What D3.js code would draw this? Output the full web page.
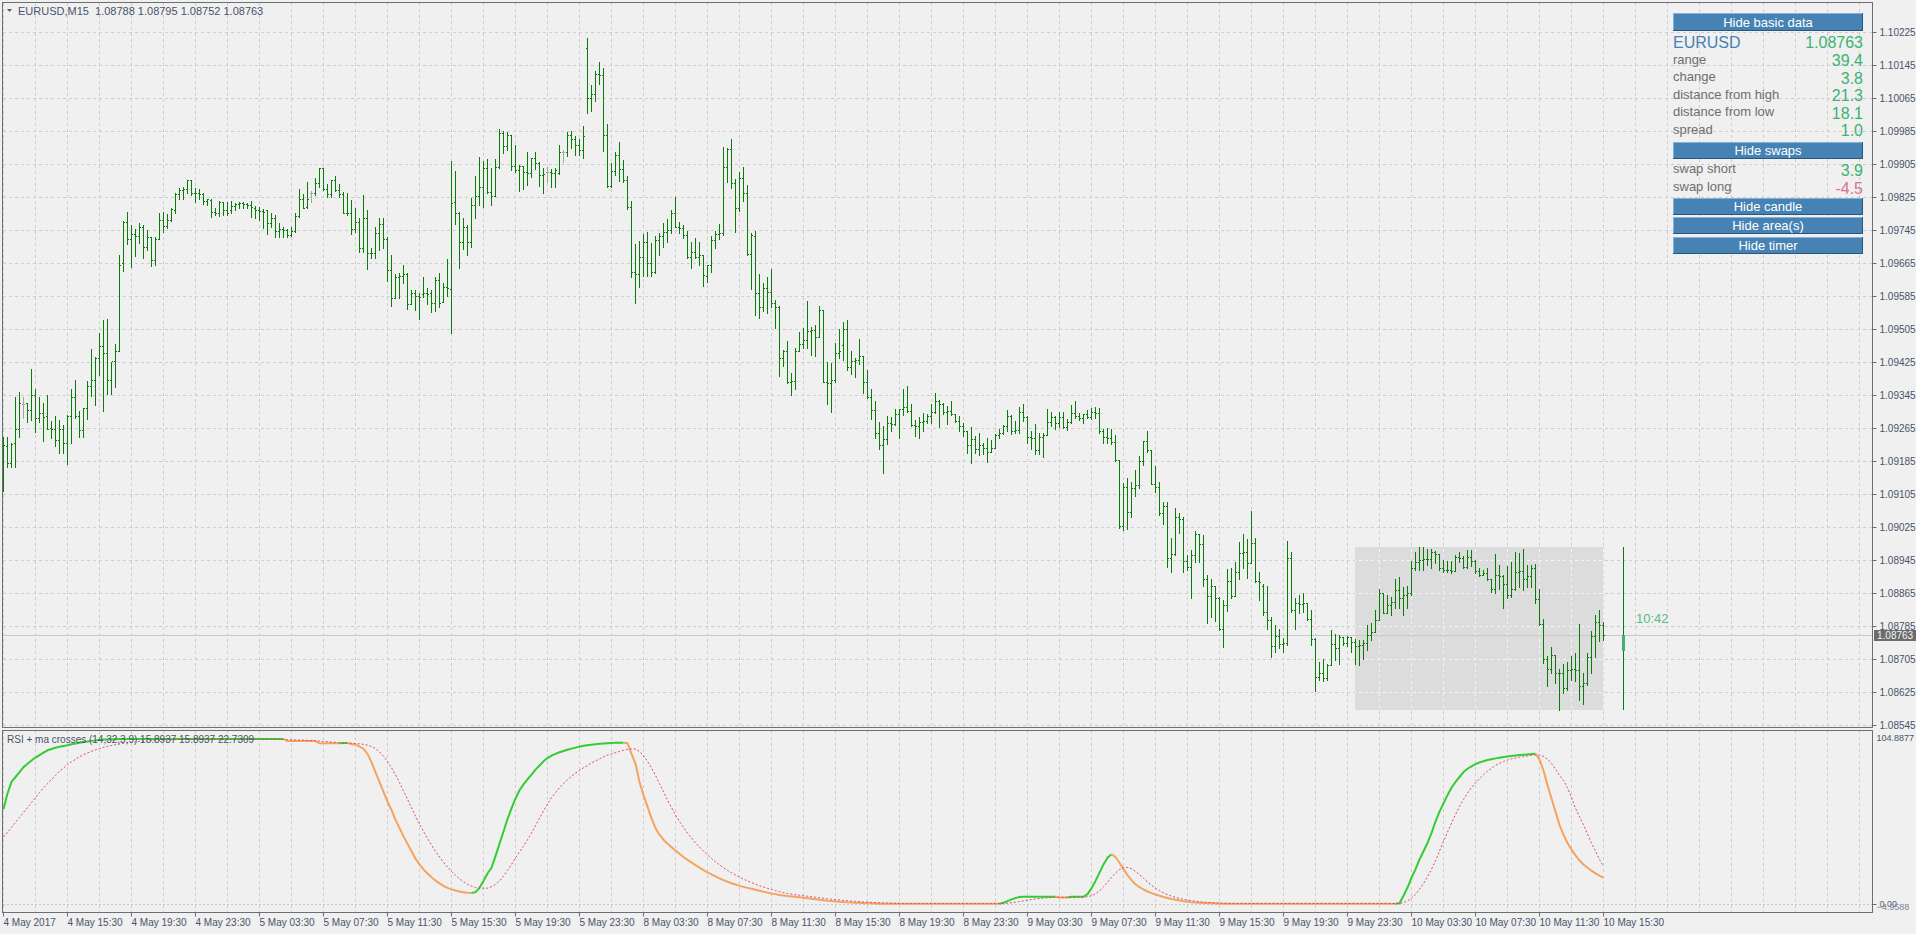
<!DOCTYPE html>
<html>
<head>
<meta charset="utf-8">
<script src="https://cdn.jsdelivr.net/npm/d3@7"></script>
<style>
  body { margin: 0; background: #f0f0f0; overflow: hidden; }
  svg { display: block; font-family: "Liberation Sans", Arial, sans-serif; }
</style>
</head>
<body>
<svg id="chart" width="1916" height="934"></svg>
<script>
// EURUSD M15 bars, prices in points (price * 100000), bar 0 = 4 May 11:30
const barOpen = [
  109179,109221,109181,109228,109264,109323,109325,109310,109345,109290,
  109301,109294,109266,109262,109236,109263,109230,109294,109341,109294,
  109260,109313,109367,109382,109436,109464,109448,109382,109428,109453,
  109666,109766,109723,109736,109731,109754,109705,109728,109673,109725,
  109771,109755,109771,109794,109834,109843,109844,109868,109836,109835,
  109834,109817,109818,109790,109788,109814,109794,109794,109804,109809,
  109810,109809,109807,109800,109794,109792,109794,109762,109776,109743,
  109747,109745,109733,109743,109779,109822,109802,109836,109836,109859,
  109895,109846,109833,109867,109843,109834,109787,109786,109747,109766,
  109701,109774,109690,109689,109739,109760,109725,109648,109580,109632,
  109634,109639,109567,109593,109585,109590,109592,109592,109568,109624,
  109572,109608,109602,109814,109786,109717,109754,109717,109806,109829,
  109849,109895,109839,109829,109898,109980,109950,109975,109901,109891,
  109901,109887,109885,109920,109907,109879,109887,109887,109885,109883,
  109934,109934,109976,109966,109952,109940,110186,110067,110075,110123,
  110122,109976,109852,109889,109928,109893,109867,109802,109645,109639,
  109679,109716,109665,109643,109721,109732,109740,109746,109788,109754,
  109751,109734,109679,109692,109679,109685,109635,109661,109721,109735,
  109738,109898,109941,109859,109800,109871,109836,109687,109730,109592,
  109560,109604,109596,109568,109558,109434,109451,109376,109379,109452,
  109468,109480,109501,109503,109487,109552,109378,109374,109383,109448,
  109467,109505,109413,109428,109430,109439,109378,109341,109308,109253,
  109224,109239,109277,109275,109299,109311,109317,109307,109273,109270,
  109281,109283,109295,109304,109331,109324,109304,109307,109299,109283,
  109270,109257,109224,109238,109214,109223,109218,109206,109216,109249,
  109253,109271,109295,109257,109261,109305,109291,109244,109242,109211,
  109244,109249,109281,109291,109277,109293,109269,109279,109301,109295,
  109289,109299,109293,109304,109303,109257,109243,109241,109231,109188,
  109028,109123,109061,109121,109126,109186,109234,109211,109130,109123,
  109059,109076,108949,108959,109050,109045,108943,108929,108957,109008,
  108983,108898,108858,108881,108854,108779,108836,108894,108859,108915,
  108961,108964,108937,108986,108894,108882,108820,108799,108736,108761,
  108741,108743,108951,108824,108840,108838,108840,108801,108753,108662,
  108672,108660,108690,108741,108731,108759,108745,108759,108747,108737,
  108739,108743,108763,108771,108799,108864,108817,108836,108844,108872,
  108854,108860,108864,108927,108941,108945,108947,108948,108965,108959,
  108927,108922,108921,108919,108953,108951,108929,108953,108943,108919,
  108909,108914,108898,108874,108909,108907,108888,108860,108874,108917,
  108918,108898,108906,108927,108850,108789,108706,108682,108714,108672,
  108670,108634,108678,108680,108678,108639,108646,108709,108761,108795,
  108788
];
const barHigh = [
  109244,109244,109228,109341,109352,109341,109327,109408,109361,109341,
  109327,109345,109282,109294,109285,109272,109297,109361,109382,109307,
  109315,109379,109456,109438,109497,109527,109530,109426,109469,109686,
  109767,109789,109759,109747,109763,109758,109745,109729,109728,109788,
  109790,109784,109798,109836,109847,109849,109868,109868,109847,109844,
  109836,109822,109820,109798,109817,109814,109814,109817,109812,109814,
  109814,109812,109816,109804,109802,109796,109794,109786,109782,109763,
  109752,109747,109753,109786,109844,109834,109863,109840,109873,109897,
  109897,109857,109868,109876,109857,109838,109836,109818,109800,109776,
  109830,109794,109701,109753,109774,109774,109729,109685,109640,109642,
  109661,109642,109601,109601,109592,109631,109604,109600,109631,109641,
  109616,109675,109913,109889,109789,109776,109759,109823,109877,109922,
  109913,109918,109895,109917,109990,109986,109984,109976,109952,109903,
  109902,109936,109921,109935,109910,109895,109899,109894,109895,109952,
  109940,109984,109986,109974,109966,109998,110211,110097,110131,110152,
  110139,110004,109907,109934,109958,109916,109877,109816,109712,109719,
  109736,109742,109713,109732,109738,109762,109772,109794,109825,109764,
  109758,109744,109717,109726,109717,109685,109661,109730,109743,109760,
  109946,109944,109966,109869,109887,109898,109855,109738,109743,109639,
  109616,109631,109651,109576,109561,109455,109477,109398,109460,109498,
  109507,109573,109511,109515,109561,109552,109425,109422,109471,109506,
  109523,109527,109452,109434,109481,109440,109406,109360,109331,109280,
  109270,109295,109291,109312,109312,109360,109367,109324,109285,109293,
  109301,109299,109323,109350,109333,109325,109319,109331,109299,109295,
  109278,109257,109267,109246,109253,109230,109242,109236,109250,109262,
  109273,109309,109297,109282,109316,109324,109295,109258,109275,109254,
  109254,109311,109305,109295,109305,109305,109288,109321,109331,109303,
  109299,109309,109313,109317,109313,109262,109265,109262,109249,109189,
  109133,109143,109135,109164,109198,109235,109258,109212,109173,109135,
  109087,109087,108998,109071,109059,109049,108957,108970,109016,109008,
  109006,108909,108898,108882,108856,108847,108923,108927,108940,108988,
  109008,108996,109064,108998,108917,108886,108882,108807,108787,108777,
  108755,108991,108965,108852,108860,108866,108841,108824,108755,108698,
  108704,108694,108775,108765,108763,108759,108761,108759,108753,108751,
  108752,108787,108793,108824,108876,108866,108860,108856,108898,108904,
  108879,108882,108943,108964,108976,108976,108973,108973,108968,108959,
  108945,108943,108942,108957,108965,108955,108969,108969,108945,108925,
  108922,108925,108898,108959,108933,108909,108930,108941,108965,108963,
  108973,108933,108934,108935,108876,108801,108712,108735,108714,108682,
  108692,108698,108713,108719,108790,108670,108719,108774,108812,108824,
  108795
];
const barLow = [
  109112,109171,109170,109170,109244,109289,109279,109286,109256,109279,
  109234,109263,109240,109221,109205,109204,109179,109228,109289,109244,
  109244,109288,109344,109321,109394,109307,109349,109349,109365,109453,
  109647,109712,109657,109682,109715,109677,109697,109658,109661,109725,
  109741,109750,109767,109788,109820,109822,109836,109830,109814,109820,
  109808,109806,109778,109782,109779,109782,109782,109788,109794,109800,
  109798,109800,109778,109774,109770,109751,109736,109754,109728,109728,
  109728,109728,109731,109741,109778,109798,109800,109814,109830,109851,
  109842,109826,109826,109840,109826,109786,109782,109737,109741,109693,
  109693,109652,109677,109677,109697,109703,109622,109561,109580,109580,
  109618,109555,109567,109551,109531,109582,109565,109548,109549,109560,
  109572,109586,109497,109760,109654,109699,109685,109705,109776,109806,
  109802,109835,109806,109829,109897,109932,109940,109891,109887,109841,
  109844,109855,109875,109894,109852,109836,109863,109851,109851,109882,
  109911,109925,109945,109928,109928,109921,110030,110034,110059,110100,
  109937,109851,109851,109879,109865,109861,109796,109631,109568,109608,
  109633,109633,109635,109641,109685,109705,109717,109738,109752,109738,
  109726,109677,109653,109677,109662,109611,109620,109645,109703,109723,
  109734,109863,109848,109742,109792,109816,109685,109603,109540,109533,
  109549,109544,109560,109507,109392,109417,109375,109345,109359,109452,
  109459,109460,109442,109440,109487,109376,109323,109305,109378,109434,
  109430,109405,109396,109388,109420,109351,109339,109287,109242,109214,
  109157,109227,109258,109273,109242,109297,109305,109270,109246,109242,
  109257,109278,109277,109303,109269,109299,109275,109297,109281,109259,
  109247,109204,109180,109204,109200,109202,109184,109206,109216,109242,
  109250,109257,109250,109253,109253,109283,109230,109214,109202,109202,
  109196,109249,109270,109262,109269,109265,109261,109278,109289,109285,
  109278,109289,109287,109289,109254,109228,109228,109226,109186,109024,
  109018,109020,109050,109101,109121,109176,109208,109130,109109,109054,
  109032,108929,108917,108957,109010,108917,108921,108854,108941,108940,
  108883,108793,108808,108798,108775,108735,108822,108854,108859,108899,
  108927,108901,108937,108891,108848,108812,108777,108709,108723,108731,
  108723,108739,108820,108777,108816,108820,108799,108739,108628,108654,
  108652,108654,108690,108702,108694,108739,108737,108723,108693,108690,
  108706,108727,108752,108771,108799,108816,108816,108812,108828,108828,
  108813,108830,108860,108921,108922,108922,108934,108925,108938,108922,
  108917,108917,108914,108919,108941,108927,108927,108930,108914,108906,
  108909,108896,108868,108864,108874,108828,108852,108856,108872,108880,
  108872,108880,108879,108841,108787,108696,108639,108672,108646,108581,
  108622,108630,108654,108652,108605,108595,108642,108672,108710,108749,
  108752
];
const barClose = [
  109224,109181,109226,109264,109325,109323,109310,109345,109290,109301,
  109293,109264,109262,109236,109263,109228,109294,109341,109294,109260,
  109313,109367,109382,109436,109464,109448,109382,109428,109453,109662,
  109766,109723,109736,109731,109754,109705,109728,109674,109725,109771,
  109755,109771,109796,109834,109843,109844,109868,109836,109835,109834,
  109817,109820,109790,109788,109814,109794,109786,109804,109809,109810,
  109809,109807,109802,109794,109792,109790,109762,109776,109743,109747,
  109745,109733,109743,109779,109822,109800,109822,109836,109859,109895,
  109846,109833,109867,109843,109834,109787,109786,109747,109766,109701,
  109774,109690,109689,109739,109760,109725,109648,109580,109632,109634,
  109639,109567,109593,109585,109584,109592,109590,109568,109624,109568,
  109608,109604,109810,109786,109717,109754,109717,109806,109829,109849,
  109895,109839,109829,109898,109980,109950,109975,109901,109891,109901,
  109887,109885,109920,109907,109879,109881,109887,109885,109891,109934,
  109934,109976,109966,109952,109940,109974,110067,110075,110123,110122,
  109976,109852,109889,109928,109893,109867,109802,109645,109639,109679,
  109716,109665,109643,109721,109732,109740,109746,109788,109754,109751,
  109734,109679,109692,109679,109685,109637,109661,109721,109735,109738,
  109898,109941,109859,109800,109871,109836,109687,109734,109592,109560,
  109604,109596,109568,109558,109434,109451,109376,109379,109452,109468,
  109480,109501,109503,109487,109552,109378,109374,109383,109448,109451,
  109505,109413,109428,109430,109439,109378,109341,109308,109253,109224,
  109239,109277,109275,109299,109311,109317,109307,109273,109270,109281,
  109283,109295,109304,109331,109324,109304,109307,109299,109283,109270,
  109257,109224,109238,109214,109223,109218,109206,109216,109249,109253,
  109271,109295,109257,109261,109305,109291,109244,109242,109211,109244,
  109249,109281,109291,109277,109293,109269,109279,109301,109295,109289,
  109299,109293,109304,109303,109257,109243,109241,109231,109188,109028,
  109123,109061,109121,109126,109186,109234,109211,109130,109123,109059,
  109076,108949,108959,109050,109045,108943,108929,108957,109008,108983,
  108898,108858,108881,108854,108779,108836,108894,108859,108915,108961,
  108964,108937,108986,108894,108893,108820,108799,108736,108761,108741,
  108743,108951,108824,108840,108838,108840,108801,108753,108662,108672,
  108660,108690,108741,108731,108759,108745,108759,108747,108737,108739,
  108743,108763,108771,108799,108864,108817,108836,108844,108872,108854,
  108860,108864,108927,108941,108945,108947,108948,108965,108959,108927,
  108922,108921,108919,108953,108951,108929,108953,108943,108919,108909,
  108914,108898,108874,108909,108907,108888,108860,108874,108917,108918,
  108898,108906,108927,108850,108789,108706,108682,108714,108672,108670,
  108634,108678,108680,108678,108639,108646,108709,108761,108795,108787,
  108763
];

// RSI + ma crosses (14,32,3,9), one value per bar
const rsiLine = [
  57.6,67,74,77,80,83,85,87,88.8,90.3,
  91.8,93.2,94,94.7,95.3,95.8,96.2,96.8,97.3,97.8,
  98.2,98.5,98.9,99.2,99.5,99.7,99.8,99.9,99.9,100,
  100,100,100,100,100,100,100,100,100,100,
  100,100,100,100,100,100,100,100,100,100,
  100,100,100,100,100,100,100,100,100,100,
  100,100,100,100,100,100,100,100,100,100,
  100,98.8,98.8,98.8,98.8,98.8,98.8,98.8,98.8,97.4,
  97.4,97.4,97.4,97.4,97.4,97.6,97.6,97.0,96.5,95.5,
  94,91,86,80,74,68,62,57,51,46,
  41,36.5,32,27.5,24,21,18.5,16.2,14.2,12.5,
  11,9.8,8.9,8.2,7.6,7.2,6.9,6.7,7.2,9.8,
  14,18.5,22,29,36.5,44,51.5,58,64,69,
  72.5,75.5,78.5,81.5,84,86.5,88.5,90,91,92,
  92.8,93.5,94.2,94.8,95.4,95.9,96.3,96.6,96.9,97.1,
  97.3,97.5,97.6,97.7,97.8,97.8,97.5,91,85,74,
  66,59,52,46,42,39,36.5,34.5,32.5,30.5,
  28.5,26.8,25.2,23.6,22.1,20.5,19.2,18,16.8,15.6,
  14.5,13.5,12.6,11.8,11,10.4,9.8,9.2,8.6,8,
  7.4,6.9,6.4,6,5.5,5.1,4.8,4.6,4.4,4.1,
  3.8,3.5,3.2,2.9,2.6,2.3,2.0,1.8,1.6,1.4,
  1.2,1.0,0.9,0.8,0.7,0.6,0.5,0.4,0.3,0.2,
  0.2,0.2,0.2,0.2,0.2,0.2,0.2,0.2,0.2,0.2,
  0.2,0.2,0.2,0.2,0.2,0.2,0.2,0.2,0.2,0.2,
  0.2,0.2,0.2,0.2,0.2,0.2,0.2,0.2,0.2,0.2,
  0.8,1.8,2.8,3.6,4.2,4.4,4.4,4.4,4.4,4.4,
  4.4,4.4,4.4,4.4,4.0,4.0,4.0,4.4,4.4,4.4,
  4.4,6,9.5,14,19,24,28,30.2,28.5,25,
  21,17.5,14.5,12,10.2,8.8,7.6,6.6,5.8,5.0,
  4.3,3.7,3.1,2.6,2.1,1.7,1.4,1.1,0.9,0.7,
  0.6,0.5,0.4,0.3,0.2,0.2,0.2,0.2,0.2,0.2,
  0.2,0.2,0.2,0.2,0.2,0.2,0.2,0.2,0.2,0.2,
  0.2,0.2,0.2,0.2,0.2,0.2,0.2,0.2,0.2,0.2,
  0.2,0.2,0.2,0.2,0.2,0.2,0.2,0.2,0.2,0.2,
  0.2,0.2,0.2,0.2,0.2,0.2,0.2,0.2,0.2,0.5,
  5,10,16,21,27,32,37,43,50,56,
  61,66,70.5,74,77,80,82,83.5,84.8,85.8,
  86.6,87.3,87.8,88.3,88.7,89.1,89.4,89.7,90,90.3,
  90.5,90.7,90.9,91.1,87.5,81,72,64,56,48,
  42,37,33,29.5,26.5,24,22,20.2,18.6,17.2,
  15.8937
];
const rsiMa = [
  40.6,43.5,46.5,49.5,52.5,55.5,58.5,61.5,64.5,67.5,
  70.5,73,75.5,78,80.5,82.5,84.5,86.2,87.8,89.2,
  90.5,91.6,92.6,93.5,94.3,95,95.6,96.1,96.6,97,
  97.4,97.7,98,98.3,98.5,98.7,98.9,99.1,99.2,99.3,
  99.4,99.5,99.6,99.7,99.8,99.8,99.8,99.8,99.8,99.8,
  99.8,99.8,99.8,99.8,99.8,99.8,99.8,99.8,99.8,99.8,
  99.8,99.8,99.8,99.8,99.8,99.8,99.8,99.8,99.8,99.8,
  99.8,99.7,99.6,99.5,99.4,99.3,99.2,99.1,99.0,98.8,
  98.6,98.4,98.2,98.0,97.7,97.5,97.5,97.4,97.3,97.1,
  96.8,96.3,95.5,94.2,92.2,89.6,86.4,82.6,78.3,73.6,
  68.6,63.5,58.3,53.3,48.5,44,39.8,35.8,32,28.5,
  25.3,22.4,19.8,17.4,15.3,13.5,12,10.8,10,9.7,
  9.6,9.6,10.5,12,14,17,20.5,24,28,31.5,
  35,39,43,47.5,52,56.5,60.5,64.5,67.5,70.5,
  73,75.3,77.5,79.3,81,82.6,84,85.5,86.8,88,
  89.2,90.2,91,91.8,92.5,93.2,93.7,94,94,92.5,
  90,86.5,82.5,78,73,68,63,58.5,54,50,
  46.5,43,40,37,34.5,32,29.8,27.6,25.6,23.7,
  22,20.4,19,17.6,16.3,15.1,14,13,12,11.1,
  10.3,9.5,8.8,8.1,7.5,6.9,6.4,6,5.6,5.3,
  5,4.7,4.4,4.1,3.8,3.5,3.2,2.9,2.6,2.4,
  2.2,2,1.8,1.6,1.4,1.2,1.1,1.0,0.9,0.8,
  0.7,0.6,0.5,0.4,0.3,0.3,0.3,0.3,0.3,0.3,
  0.3,0.3,0.3,0.3,0.3,0.3,0.3,0.3,0.3,0.3,
  0.3,0.3,0.3,0.3,0.3,0.3,0.3,0.3,0.3,0.3,
  0.3,0.5,0.8,1.1,1.5,1.9,2.3,2.7,3.0,3.3,
  3.6,3.8,3.9,4.0,4.1,4.1,4.1,4.1,4.1,4.2,
  4.2,4.4,5.0,6.2,8.0,10.4,13.2,16.2,18.8,20.8,
  22,22.2,21.4,19.8,17.8,15.6,13.4,11.4,9.6,8.1,
  6.8,5.7,4.8,4.0,3.4,2.8,2.4,2.0,1.7,1.4,
  1.2,1.0,0.8,0.7,0.6,0.5,0.4,0.3,0.3,0.3,
  0.3,0.3,0.3,0.3,0.3,0.3,0.3,0.3,0.3,0.3,
  0.3,0.3,0.3,0.3,0.3,0.3,0.3,0.3,0.3,0.3,
  0.3,0.3,0.3,0.3,0.3,0.3,0.3,0.3,0.3,0.3,
  0.3,0.3,0.3,0.3,0.3,0.3,0.3,0.3,0.3,0.3,
  0.8,1.9,3.6,5.9,8.9,12.4,16.5,21.1,26.2,32,
  38,43.6,49.1,54.3,59.1,63.4,67.2,70.6,73.4,76,
  78.4,80.5,82.4,84,85.3,86.4,87.3,88,88.5,89,
  89.4,89.8,90.1,90.4,90.3,89.5,87.8,85.3,81.8,78,
  75,70.5,64.5,58,53,48,42.5,37,32,27,
  22.7309
];

const timeLabels = ["4 May 2017","4 May 15:30","4 May 19:30","4 May 23:30","5 May 03:30","5 May 07:30",
  "5 May 11:30","5 May 15:30","5 May 19:30","5 May 23:30","8 May 03:30","8 May 07:30","8 May 11:30",
  "8 May 15:30","8 May 19:30","8 May 23:30","9 May 03:30","9 May 07:30","9 May 11:30","9 May 15:30",
  "9 May 19:30","9 May 23:30","10 May 03:30","10 May 07:30","10 May 11:30","10 May 15:30"];
const priceTicks = [1.08545,1.08625,1.08705,1.08785,1.08865,1.08945,1.09025,1.09105,1.09185,1.09265,1.09345,
  1.09425,1.09505,1.09585,1.09665,1.09745,1.09825,1.09905,1.09985,1.10065,1.10145,1.10225];
const rsiRange = [-4.9588, 104.8877];

// daily candle (open, high, low, close) and the bar where the day starts
const dayOHLC = [108725, 108976, 108582, 108763];
const dayStartBar = 338;
const dayCandleBar = 405;
const infoRows = [["range","39.4"],["change","3.8"],["distance from high","21.3"],["distance from low","18.1"],["spread","1.0"]];
const swapRows = [["swap short","3.9"],["swap long","-4.5"]];
const timerText = "10:42";

const pt = v => v / 100000;
const svg = d3.select("#chart");
const plotL = 2.5, plotR = 1872.5, mainT = 2.5, mainB = 727.5, rsiT = 730.5, rsiB = 912.5;
const FONT = "Liberation Sans, Arial, sans-serif";

// scales: x gives the pixel column of a bar, y the price row
const x = d3.scaleLinear().domain([0, 1]).range([3, 7]);
const y = d3.scaleLinear().domain([priceTicks[0], priceTicks[priceTicks.length - 1]]).range([725, 32.4]);
const yRound = y.copy().interpolate(d3.interpolateRound);
const yr = d3.scaleLinear().domain(rsiRange).range([912.2, 731]);

svg.append("rect").attr("width", 1916).attr("height", 934).attr("fill", "#f0f0f0");

const gridColor = "#cdcdcd";
const nBars = barClose.length;
const gridCols = d3.range(0, 468, 8);

function drawGrid(g, color) {
  g.selectAll(".vm").data(gridCols).join("line")
    .attr("x1", d => x(d) + 0.5).attr("x2", d => x(d) + 0.5)
    .attr("y1", mainT + 0.5).attr("y2", mainB - 0.5)
    .attr("stroke", color).attr("stroke-dasharray", "3,3");
  g.selectAll(".hm").data(priceTicks).join("line")
    .attr("x1", plotL + 0.5).attr("x2", plotR - 0.5)
    .attr("y1", d => yRound(d) + 0.5).attr("y2", d => yRound(d) + 0.5)
    .attr("stroke", color).attr("stroke-dasharray", "3,3");
}

const gridG = svg.append("g");
drawGrid(gridG, gridColor);

// today's area box
const boxX0 = x(dayStartBar), boxX1 = x(nBars - 1) + 1;
const boxY0 = Math.round(y(pt(dayOHLC[1]))), boxY1 = Math.round(y(pt(dayOHLC[2])));
svg.append("rect").attr("x", boxX0).attr("y", boxY0).attr("width", boxX1 - boxX0).attr("height", boxY1 - boxY0)
  .attr("fill", "#dcdcdc");
svg.append("clipPath").attr("id", "boxclip").append("rect")
  .attr("x", boxX0).attr("y", boxY0).attr("width", boxX1 - boxX0).attr("height", boxY1 - boxY0);
const gridIn = svg.append("g").attr("clip-path", "url(#boxclip)");
drawGrid(gridIn, "#f4f4f4");

// rsi window grid
const rsiGrid = svg.append("g");
rsiGrid.selectAll("line.v").data(gridCols).join("line")
  .attr("x1", d => x(d) + 0.5).attr("x2", d => x(d) + 0.5)
  .attr("y1", rsiT + 0.5).attr("y2", rsiB - 0.5)
  .attr("stroke", gridColor).attr("stroke-dasharray", "3,3");
rsiGrid.append("line")
  .attr("x1", plotL + 0.5).attr("x2", plotR - 0.5)
  .attr("y1", Math.round(yr(0)) + 0.5).attr("y2", Math.round(yr(0)) + 0.5)
  .attr("stroke", "#c4c4c4").attr("stroke-dasharray", "2,2");

// current price line
const lastClose = pt(barClose[nBars - 1]);
svg.append("line").attr("x1", plotL).attr("x2", plotR)
  .attr("y1", yRound(lastClose) + 0.5).attr("y2", yRound(lastClose) + 0.5)
  .attr("stroke", "#c8c8c8");

// OHLC bars
const bars = svg.append("g").attr("shape-rendering", "crispEdges");
d3.range(nBars).forEach(function(i) {
  const col = barOpen[i] === barClose[i] ? "#a4a4a4" : "#0b7a0b";
  const top = yRound(pt(barHigh[i])), bot = yRound(pt(barLow[i]));
  bars.append("rect").attr("x", x(i)).attr("y", top).attr("width", 1).attr("height", Math.max(1, bot - top + 1)).attr("fill", col);
  bars.append("rect").attr("x", x(i) - 1).attr("y", yRound(pt(barOpen[i]))).attr("width", 1).attr("height", 1).attr("fill", col);
  bars.append("rect").attr("x", x(i) + 1).attr("y", yRound(pt(barClose[i]))).attr("width", 1).attr("height", 1).attr("fill", col);
});

// daily candle + timer
const dc = svg.append("g").attr("shape-rendering", "crispEdges");
const dTop = yRound(pt(dayOHLC[1])), dBot = yRound(pt(dayOHLC[2]));
dc.append("rect").attr("x", x(dayCandleBar)).attr("y", dTop).attr("width", 1).attr("height", dBot - dTop).attr("fill", "#0b7a0b");
const bTop = yRound(pt(Math.max(dayOHLC[0], dayOHLC[3]))), bBot = yRound(pt(Math.min(dayOHLC[0], dayOHLC[3])));
dc.append("rect").attr("x", x(dayCandleBar) - 1).attr("y", bTop).attr("width", 3).attr("height", bBot - bTop).attr("fill", "#3cb371");
svg.append("text").attr("x", x(dayCandleBar) + 13).attr("y", 622.5).attr("font-size", 13)
  .attr("fill", "#5cb98a").text(timerText);

// RSI lines: green while rising, orange while falling
const xc = i => x(i) + 0.5;
const runs = [];
let state = "up";
for (let i = 1; i < rsiLine.length; i++) {
  if (rsiLine[i] > rsiLine[i - 1]) state = "up";
  else if (rsiLine[i] < rsiLine[i - 1]) state = "down";
  const last = runs[runs.length - 1];
  if (last && last.state === state) last.idx.push(i);
  else runs.push({ state: state, idx: [i - 1, i] });
}
const rsiPath = d3.line().x(i => xc(i)).y(i => yr(rsiLine[i]));
svg.append("g").selectAll("path").data(runs).join("path")
  .attr("d", d => rsiPath(d.idx))
  .attr("fill", "none").attr("stroke-width", 2).attr("stroke-linejoin", "round")
  .attr("stroke", d => d.state === "up" ? "#32cd32" : "#f4a460");
svg.append("path").datum(d3.range(rsiMa.length))
  .attr("d", d3.line().x(i => xc(i)).y(i => yr(rsiMa[i])))
  .attr("fill", "none").attr("stroke", "#e0456c").attr("stroke-width", 1).attr("stroke-dasharray", "2,2");

// frames
svg.append("rect").attr("x", plotL).attr("y", mainT).attr("width", plotR - plotL).attr("height", mainB - mainT)
  .attr("fill", "none").attr("stroke", "#6e6e6e");
svg.append("rect").attr("x", plotL).attr("y", rsiT).attr("width", plotR - plotL).attr("height", rsiB - rsiT)
  .attr("fill", "none").attr("stroke", "#6e6e6e");

// price axis
const axisText = "#48536a";
const yAxis = d3.axisRight(yRound).tickValues(priceTicks).tickFormat(d3.format(".5f")).tickSize(4).tickPadding(3);
const ya = svg.append("g").attr("transform", `translate(${plotR},0)`).call(yAxis);
ya.select(".domain").remove();
ya.selectAll("line").attr("stroke", "#6e6e6e");
ya.selectAll("text").attr("fill", axisText).attr("font-size", 10).attr("font-family", FONT);

// current price label
const lp = yRound(lastClose);
svg.append("rect").attr("x", plotR + 1.5).attr("y", lp - 5).attr("width", 42).attr("height", 11).attr("fill", "#6c6c6c");
svg.append("text").attr("x", plotR + 4.5).attr("y", lp + 4).attr("font-size", 10).attr("fill", "#f4f4f4")
  .text(d3.format(".5f")(lastClose));

// rsi axis
const ra = svg.append("g").attr("transform", `translate(${plotR},0)`)
  .call(d3.axisRight(yr.copy().interpolate(d3.interpolateRound)).tickValues([0]).tickFormat(d3.format(".2f")).tickSize(4).tickPadding(3));
ra.select(".domain").remove();
ra.selectAll("line").attr("stroke", "#6e6e6e");
ra.selectAll("text").attr("fill", "#5a6276").attr("font-size", 9).attr("font-family", FONT);
svg.append("text").attr("x", plotR + 4).attr("y", yr(rsiRange[1]) + 9.5).attr("font-size", 9).attr("fill", axisText)
  .text(d3.format(".4f")(rsiRange[1]));
svg.append("text").attr("x", plotR + 4).attr("y", yr(rsiRange[0]) - 2.5).attr("font-size", 9).attr("fill", "#7b8597")
  .text(d3.format(".4f")(rsiRange[0]));

// time axis
const xAxis = d3.axisBottom(x).tickValues(d3.range(0, nBars, 16))
  .tickFormat((d, k) => timeLabels[k]).tickSize(4).tickPadding(2);
const xa = svg.append("g").attr("transform", `translate(0,${rsiB})`).call(xAxis);
xa.select(".domain").remove();
xa.selectAll("line").attr("stroke", "#6e6e6e");
xa.selectAll("text").attr("fill", axisText).attr("font-size", 10).attr("text-anchor", "start")
  .attr("font-family", FONT);

// header + subwindow title
svg.append("path").attr("d", "M7,9 L12,9 L9.5,12 Z").attr("fill", "#5a5a5a");
const f5 = d3.format(".5f");
svg.append("text").attr("x", 18).attr("y", 14.5).attr("font-size", 11).attr("fill", axisText).style("white-space", "pre")
  .text(`EURUSD,M15  ${f5(pt(barOpen[nBars-1]))} ${f5(pt(barHigh[nBars-1]))} ${f5(pt(barLow[nBars-1]))} ${f5(pt(barClose[nBars-1]))}`);
const f4 = d3.format(".4f");
svg.append("text").attr("x", 7).attr("y", 743).attr("font-size", 10).attr("fill", axisText)
  .text(`RSI + ma crosses (14,32,3,9) ${f4(rsiLine[nBars-1])} ${f4(rsiLine[nBars-1])} ${f4(rsiMa[nBars-1])}`);

// info panel
const panelX = 1673, panelR = 1863;
const panel = svg.append("g");
function button(label, top, h) {
  const g = panel.append("g").attr("shape-rendering", "crispEdges");
  g.append("rect").attr("x", panelX).attr("y", top).attr("width", panelR - panelX).attr("height", h).attr("fill", "#4682b4");
  g.append("rect").attr("x", panelX).attr("y", top).attr("width", panelR - panelX).attr("height", 1).attr("fill", "#86b1da");
  g.append("rect").attr("x", panelX).attr("y", top).attr("width", 1).attr("height", h).attr("fill", "#86b1da");
  g.append("rect").attr("x", panelX).attr("y", top + h - 1).attr("width", panelR - panelX).attr("height", 1).attr("fill", "#28567f");
  g.append("rect").attr("x", panelR - 1).attr("y", top).attr("width", 1).attr("height", h).attr("fill", "#28567f");
  g.append("text").attr("x", (panelX + panelR) / 2).attr("y", top + h / 2 + 4.6).attr("text-anchor", "middle")
    .attr("font-size", 13).attr("fill", "#ffffff").text(label);
}
button("Hide basic data", 13, 18);
panel.append("text").attr("x", panelX).attr("y", 48.3).attr("font-size", 16).attr("fill", "#4682b4").text("EURUSD");
panel.append("text").attr("x", panelR).attr("y", 48.3).attr("font-size", 16).attr("fill", "#3cb371")
  .attr("text-anchor", "end").text(f5(lastClose));
infoRows.forEach(function(r, k) {
  panel.append("text").attr("x", panelX).attr("y", 63.5 + k * 17.6).attr("font-size", 13).attr("fill", "#6e6e6e").text(r[0]);
  panel.append("text").attr("x", panelR).attr("y", 66 + k * 17.6).attr("font-size", 16).attr("fill", "#3cb371")
    .attr("text-anchor", "end").text(r[1]);
});
button("Hide swaps", 142, 17);
swapRows.forEach(function(r, k) {
  panel.append("text").attr("x", panelX).attr("y", 172.6 + k * 18.4).attr("font-size", 13).attr("fill", "#6e6e6e").text(r[0]);
  panel.append("text").attr("x", panelR).attr("y", 176 + k * 18.4).attr("font-size", 16)
    .attr("fill", +r[1] < 0 ? "#db7093" : "#3cb371").attr("text-anchor", "end").text(r[1]);
});
button("Hide candle", 198, 17);
button("Hide area(s)", 217, 17);
button("Hide timer", 237, 17);
</script>
</body>
</html>
